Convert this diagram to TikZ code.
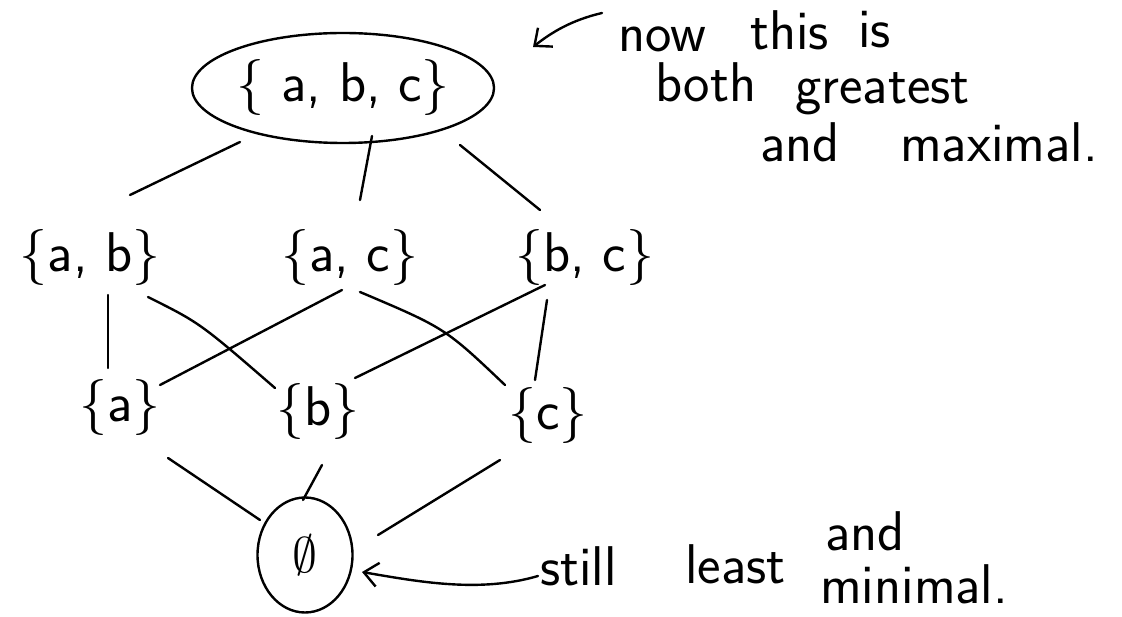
\documentclass[tikz,border=0pt]{standalone}
\usetikzlibrary{shapes.geometric,arrows.meta}
\begin{document}
\begin{tikzpicture}[x=1pt,y=-1pt,
  ink/.style={line width=2.4pt, line cap=round, draw=black},
  setnode/.style={font=\sffamily\fontsize{56}{66}\selectfont, inner sep=0pt, minimum width=150pt, minimum height=60pt},
  note/.style={font=\sffamily\fontsize{56}{66}\selectfont, inner sep=0pt, anchor=base west},
  tip/.style={-{Straight Barb[length=14pt,width=24pt]}}]
\useasboundingbox (0,0) rectangle (1122,617);
% nodes
\node[setnode, ellipse, ink, minimum width=300pt, minimum height=110pt] (top) at (343,88) {\{ a, b, c\}};
\node[setnode] (ab) at (90,258) {\{a, b\}};
\node[setnode] (ac) at (350,258) {\{a, c\}};
\node[setnode] (bc) at (585,258) {\{b, c\}};
\node[setnode] (a) at (120,408) {\{a\}};
\node[setnode] (b) at (318,412) {\{b\}};
\node[setnode] (c) at (548,415) {\{c\}};
\node[ellipse, ink, minimum width=95pt, minimum height=115pt, inner sep=0pt] (e) at (305,555) {\scalebox{5}{$\emptyset$}};
% edges
\draw[ink] ([shift={(-103,54)}]top.center) -- ([shift={(40,-63)}]ab.center);
\draw[ink] ([shift={(29,48)}]top.center) -- ([shift={(10,-58)}]ac.center);
\draw[ink] ([shift={(117,57)}]top.center) -- ([shift={(-45,-48)}]bc.center);
\draw[ink] ([shift={(18,37)}]ab.center) -- ([shift={(-12,-40)}]a.center);
\draw[ink] ([shift={(58,39)}]ab.center) .. controls ([shift={(110,65)}]ab.center) .. ([shift={(-43,-24)}]b.center);
\draw[ink] ([shift={(-8,32)}]ac.center) -- ([shift={(40,-23)}]a.center);
\draw[ink] ([shift={(10,34)}]ac.center) .. controls ([shift={(95,70)}]ac.center) .. ([shift={(-43,-30)}]c.center);
\draw[ink] ([shift={(-40,27)}]bc.center) -- ([shift={(37,-34)}]b.center);
\draw[ink] ([shift={(-38,42)}]bc.center) -- ([shift={(-13,-35)}]c.center);
\draw[ink] ([shift={(48,50)}]a.center) -- ([shift={(-45,-35)}]e.center);
\draw[ink] ([shift={(4,53)}]b.center) -- ([shift={(-2,-55)}]e.center);
\draw[ink] ([shift={(-48,45)}]c.center) -- ([shift={(73,-20)}]e.center);
% annotations
\node[note] (w1) at (618,52) {now};
\node[note] (w2) at (750,50) {this};
\node[note] (w3) at (858,48) {is};
\node[note] (w4) at (655,102) {both};
\node[note] (w5) at (795,104) {greatest};
\node[note] (w6) at (760,162) {and};
\node[note] (w7) at (900,162) {maximal.};
\node[note] (w8) at (540,585) {still};
\node[note] (w9) at (685,583) {least};
\node[note] (w10) at (825,550) {and};
\node[note] (w11) at (820,603) {minimal.};
\coordinate (n1) at (602,13);
\draw[ink,tip] (n1) .. controls (572,20) and (552,32) .. ([shift={(190,-41)}]top.center);
\coordinate (n2) at (538,576);
\draw[ink,tip] (n2) .. controls (480,593) and (420,582) .. ([shift={(57,17)}]e.center);
\end{tikzpicture}
\end{document}
